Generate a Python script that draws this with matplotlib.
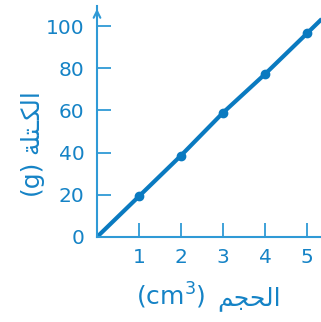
import matplotlib
matplotlib.use("Agg")
import matplotlib.pyplot as plt

plt.rcParams["mathtext.fontset"] = "dejavusans"

# data
volume = [1, 2, 3, 4, 5]
mass = [19.3, 38.6, 58.9, 77.2, 96.5]
line_x = [0, 1, 2, 3, 4, 5, 5.35]
line_y = [0, 19.3, 38.6, 58.9, 77.2, 96.5, 103.3]
xticks = [1, 2, 3, 4, 5]
yticks = [0, 20, 40, 60, 80, 100]

line_color = "#0a7ac0"
axis_color = "#2f9ad6"
text_color = "#1583c6"
fam = ["DejaVu Sans"]

fig = plt.figure(figsize=(3.21, 3.22), dpi=100)
ax = fig.add_axes([97/321, (322-237)/322, 1 - 97/321, (237-6)/322])
ax.set_xlim(0, (321-97)/42.0)
ax.set_ylim(0, (237-6)/2.11)

ax.plot(line_x, line_y, color=line_color, lw=3.0, solid_capstyle="butt", clip_on=True)
ax.plot(volume, mass, "o", color=line_color, ms=6)

for s in ["top", "right"]:
    ax.spines[s].set_visible(False)
for s in ["left", "bottom"]:
    ax.spines[s].set_color(axis_color)
    ax.spines[s].set_linewidth(1.5)

ax.set_xticks(xticks)
ax.set_yticks(yticks)
ax.tick_params(axis="both", direction="in", length=10, width=1.3, color=axis_color,
               labelcolor=text_color, labelsize=14.5)
ax.tick_params(axis="x", pad=8)
ax.tick_params(axis="y", pad=9)
for lab in ax.get_xticklabels() + ax.get_yticklabels():
    lab.set_family(fam)

# arrow head on y axis
ax.annotate("", xy=(0, (237-6)/2.11), xytext=(0, (237-20)/2.11),
            arrowprops=dict(arrowstyle="->", color=axis_color, lw=1.5,
                            mutation_scale=12), annotation_clip=False)

ylab_unit = "(g)"
ylab_ar = "\uFE94\uFEE0\uFE98\u0640\uFEDC\uFEDF\uFE8D"
xlab_unit = r"(cm$^{3}$)"
xlab_ar = "\uFEE2\uFEA0\uFEA4\uFEDF\uFE8D"

fig.text(38/321, 1 - 160/322, ylab_unit, rotation=90, rotation_mode="anchor",
         ha="right", va="baseline", color=text_color, fontsize=18, family=fam)
fig.text(38/321, 1 - 154/322, ylab_ar, rotation=90, rotation_mode="anchor",
         ha="left", va="baseline", color=text_color, fontsize=18, family=fam)
fig.text(206/321, 1 - 305/322, xlab_unit, ha="right", va="baseline",
         color=text_color, fontsize=18, family=fam)
fig.text(217/321, 1 - 305/322, xlab_ar, ha="left", va="baseline",
         color=text_color, fontsize=18, family=fam)

fig.savefig("out.png", dpi=100)
